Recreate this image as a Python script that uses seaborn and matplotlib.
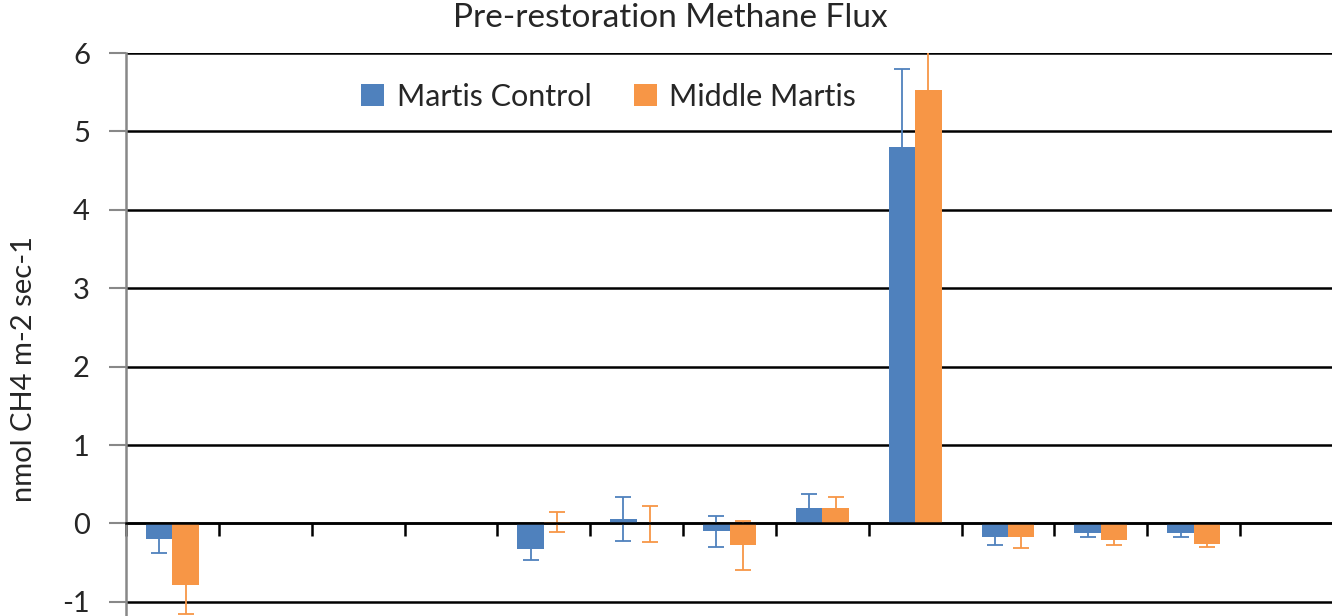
import numpy as np
import pandas as pd
import seaborn as sns
import matplotlib
matplotlib.use('Agg')
import matplotlib.pyplot as plt

# Dados (nmol CH4 m-2 sec-1)
categorias = [f'c{i}' for i in range(1, 14)]
series = ['Martis Control', 'Middle Martis']
controle = [-0.20, np.nan, np.nan, np.nan, -0.32, 0.06, -0.10, 0.20, 4.80, -0.17, -0.12, -0.12, np.nan]
controle_err = [0.18, np.nan, np.nan, np.nan, 0.15, 0.28, 0.20, 0.17, 1.00, 0.11, 0.05, 0.05, np.nan]
middle = [-0.78, np.nan, np.nan, np.nan, 0.02, -0.01, -0.28, 0.20, 5.53, -0.17, -0.21, -0.26, np.nan]
middle_err = [0.38, np.nan, np.nan, np.nan, 0.13, 0.23, 0.31, 0.14, 0.60, 0.14, 0.07, 0.04, np.nan]

CORES = ['#4F81BD', '#F79646']
LARGURA = 0.57

sns.set_theme(style='white')
plt.rcParams['font.family'] = ['Lato', 'DejaVu Sans']
plt.rcParams['axes.unicode_minus'] = False

df = pd.DataFrame({
    'categoria': categorias * 2,
    'serie': [series[0]] * len(categorias) + [series[1]] * len(categorias),
    'fluxo': controle + middle,
    'erro': controle_err + middle_err,
})

fig = plt.figure(figsize=(13.32, 6.16), dpi=100)
ax = fig.add_axes([126 / 1332, 0.0, 1207 / 1332, 563 / 616])

sns.barplot(data=df.dropna(subset=['fluxo']), x='categoria', y='fluxo', hue='serie',
            order=categorias, hue_order=series, palette=CORES, width=LARGURA,
            errorbar=None, saturation=1, linewidth=0, ax=ax, zorder=3)

# barras de erro atras das barras (como no Excel)
desloc = [-LARGURA / 4, LARGURA / 4]
for j, nome in enumerate(series):
    sub = df[df['serie'] == nome].reset_index(drop=True)
    sub = sub.dropna(subset=['fluxo'])
    xs = sub.index.to_numpy() + desloc[j]
    ax.errorbar(xs, sub['fluxo'], yerr=sub['erro'], fmt='none', ecolor=CORES[j],
                elinewidth=1.3, capsize=6, capthick=1.3, zorder=2)

ax.set_xlim(-0.5, len(categorias) - 0.5)
ax.set_ylim(-1.18, 6)
ax.set_yticks(range(-1, 7))
ax.yaxis.grid(True, color='black', linewidth=1.8, zorder=0)
ax.set_axisbelow(True)
ax.tick_params(axis='y', which='major', direction='out', length=12, width=1.5,
               color='#888888', labelsize=21, pad=14, left=True)

# eixo x em zero com marcas entre as categorias
ax.spines['bottom'].set_position(('data', 0))
ax.spines['bottom'].set_color('black')
ax.spines['bottom'].set_linewidth(1.8)
ax.spines['bottom'].set_zorder(4)
ax.set_xticks(np.arange(-0.5, len(categorias), 1.0))
ax.set_xticklabels([])
ax.tick_params(axis='x', direction='out', length=9, width=1.8, color='black', bottom=True)
ax.spines['left'].set_color('#888888')
ax.spines['left'].set_linewidth(1.8)
ax.spines['top'].set_visible(False)
ax.spines['right'].set_visible(False)

ax.set_xlabel('')
ax.set_ylabel('nmol CH4 m-2 sec-1', fontsize=21, va='center')
ax.yaxis.set_label_coords(-(126 - 24) / 1207, 0.439)

handles, labels = ax.get_legend_handles_labels()
ax.legend(handles, labels, loc='center', bbox_to_anchor=(0.40, 0.922), ncol=2,
          frameon=False, fontsize=22, handlelength=0.75, handleheight=0.75,
          handletextpad=0.4, columnspacing=1.4)

fig.text(0.503, 0.970, 'Pre-restoration Methane Flux', ha='center', va='center', fontsize=24)

plt.savefig('out.png', dpi=100)
